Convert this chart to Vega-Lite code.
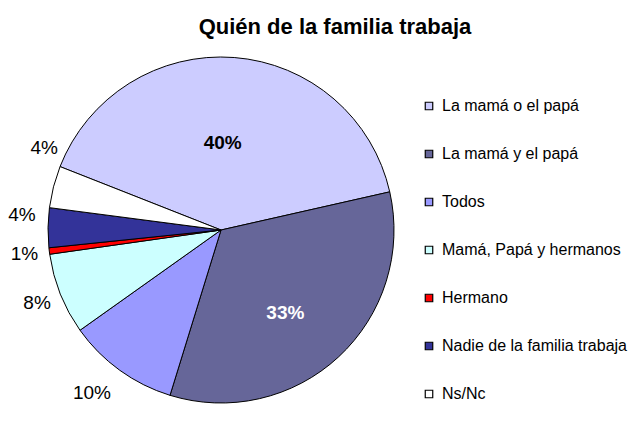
{
  "$schema": "https://vega.github.io/schema/vega-lite/v6.json",
  "width": 360,
  "height": 360,
  "autosize": {"type": "none"},
  "padding": {"top": 50, "left": 41, "right": 243, "bottom": 29},
  "background": "white",
  "config": {"view": {"stroke": null}, "font": "Liberation Sans"},
  "title": {
    "text": "Quién de la familia trabaja",
    "font": "Liberation Sans",
    "fontSize": 22,
    "fontWeight": "bold",
    "color": "black",
    "anchor": "middle",
    "frame": "group",
    "offset": 0,
    "baseline": "alphabetic",
    "dx": 114,
    "dy": 65
  },
  "data": {
    "values": [
      {"cat": "La mamá o el papá", "value": 0.4049, "orden": 1},
      {"cat": "La mamá y el papá", "value": 0.333, "orden": 2},
      {"cat": "Todos", "value": 0.104, "orden": 3},
      {"cat": "Mamá, Papá y hermanos", "value": 0.076, "orden": 4},
      {"cat": "Hermano", "value": 0.006, "orden": 5},
      {"cat": "Nadie de la familia trabaja", "value": 0.037, "orden": 6},
      {"cat": "Ns/Nc", "value": 0.0391, "orden": 7}
    ]
  },
  "encoding": {
    "theta": {"field": "value", "type": "quantitative", "stack": true, "scale": {"range": [-1.1956, 5.0876]}},
    "order": {"field": "orden", "type": "quantitative"}
  },
  "layer": [
    {
      "mark": {"type": "arc", "outerRadius": 173, "stroke": "black", "strokeWidth": 1},
      "encoding": {
        "color": {
          "field": "cat",
          "type": "nominal",
          "sort": null,
          "scale": {
            "domain": ["La mamá o el papá", "La mamá y el papá", "Todos", "Mamá, Papá y hermanos", "Hermano", "Nadie de la familia trabaja", "Ns/Nc"],
            "range": ["#CCCCFF", "#666699", "#9999FF", "#CCFFFF", "#FF0000", "#333399", "#FFFFFF"]
          },
          "legend": {
            "orient": "none",
            "legendX": 380,
            "legendY": 48,
            "title": null,
            "symbolType": "square",
            "symbolSize": 56,
            "symbolStrokeColor": "black",
            "symbolStrokeWidth": 1.2,
            "labelFont": "Liberation Sans",
            "labelFontSize": 16,
            "labelColor": "black",
            "labelLimit": 300,
            "rowPadding": 32,
            "labelOffset": 5,
            "padding": 0
          }
        }
      }
    },
    {
      "mark": {"type": "text", "radius": 198, "font": "Liberation Sans", "fontSize": 19, "color": "black", "align": "center", "baseline": "middle"},
      "encoding": {
        "text": {
          "condition": {"test": "datum.cat !== 'Mamá, Papá y hermanos' && datum.cat !== 'Hermano'", "value": ""},
          "field": "value", "type": "quantitative", "format": ".0%"
        }
      }
    },
    {
      "mark": {"type": "text", "radius": 198, "dx": -13, "dy": 3, "font": "Liberation Sans", "fontSize": 19, "color": "black", "align": "center", "baseline": "middle"},
      "encoding": {
        "text": {
          "condition": {"test": "datum.cat !== 'Todos'", "value": ""},
          "field": "value", "type": "quantitative", "format": ".0%"
        }
      }
    },
    {
      "mark": {"type": "text", "radius": 198, "dx": -1, "dy": -12, "font": "Liberation Sans", "fontSize": 19, "color": "black", "align": "center", "baseline": "middle"},
      "encoding": {
        "text": {
          "condition": {"test": "datum.cat !== 'Nadie de la familia trabaja'", "value": ""},
          "field": "value", "type": "quantitative", "format": ".0%"
        }
      }
    },
    {
      "mark": {"type": "text", "radius": 198, "dx": 15, "dy": -33, "font": "Liberation Sans", "fontSize": 19, "color": "black", "align": "center", "baseline": "middle"},
      "encoding": {
        "text": {
          "condition": {"test": "datum.cat !== 'Ns/Nc'", "value": ""},
          "field": "value", "type": "quantitative", "format": ".0%"
        }
      }
    },
    {
      "mark": {"type": "text", "radius": 87, "dx": -5, "font": "Liberation Sans", "fontSize": 19, "fontWeight": "bold", "color": "black", "align": "center", "baseline": "middle"},
      "encoding": {
        "text": {
          "condition": {"test": "datum.cat !== 'La mamá o el papá'", "value": ""},
          "field": "value", "type": "quantitative", "format": ".0%"
        }
      }
    },
    {
      "mark": {"type": "text", "radius": 105, "dx": -7, "dy": 6, "font": "Liberation Sans", "fontSize": 19, "fontWeight": "bold", "color": "white", "align": "center", "baseline": "middle"},
      "encoding": {
        "text": {
          "condition": {"test": "datum.cat !== 'La mamá y el papá'", "value": ""},
          "field": "value", "type": "quantitative", "format": ".0%"
        }
      }
    }
  ]
}
